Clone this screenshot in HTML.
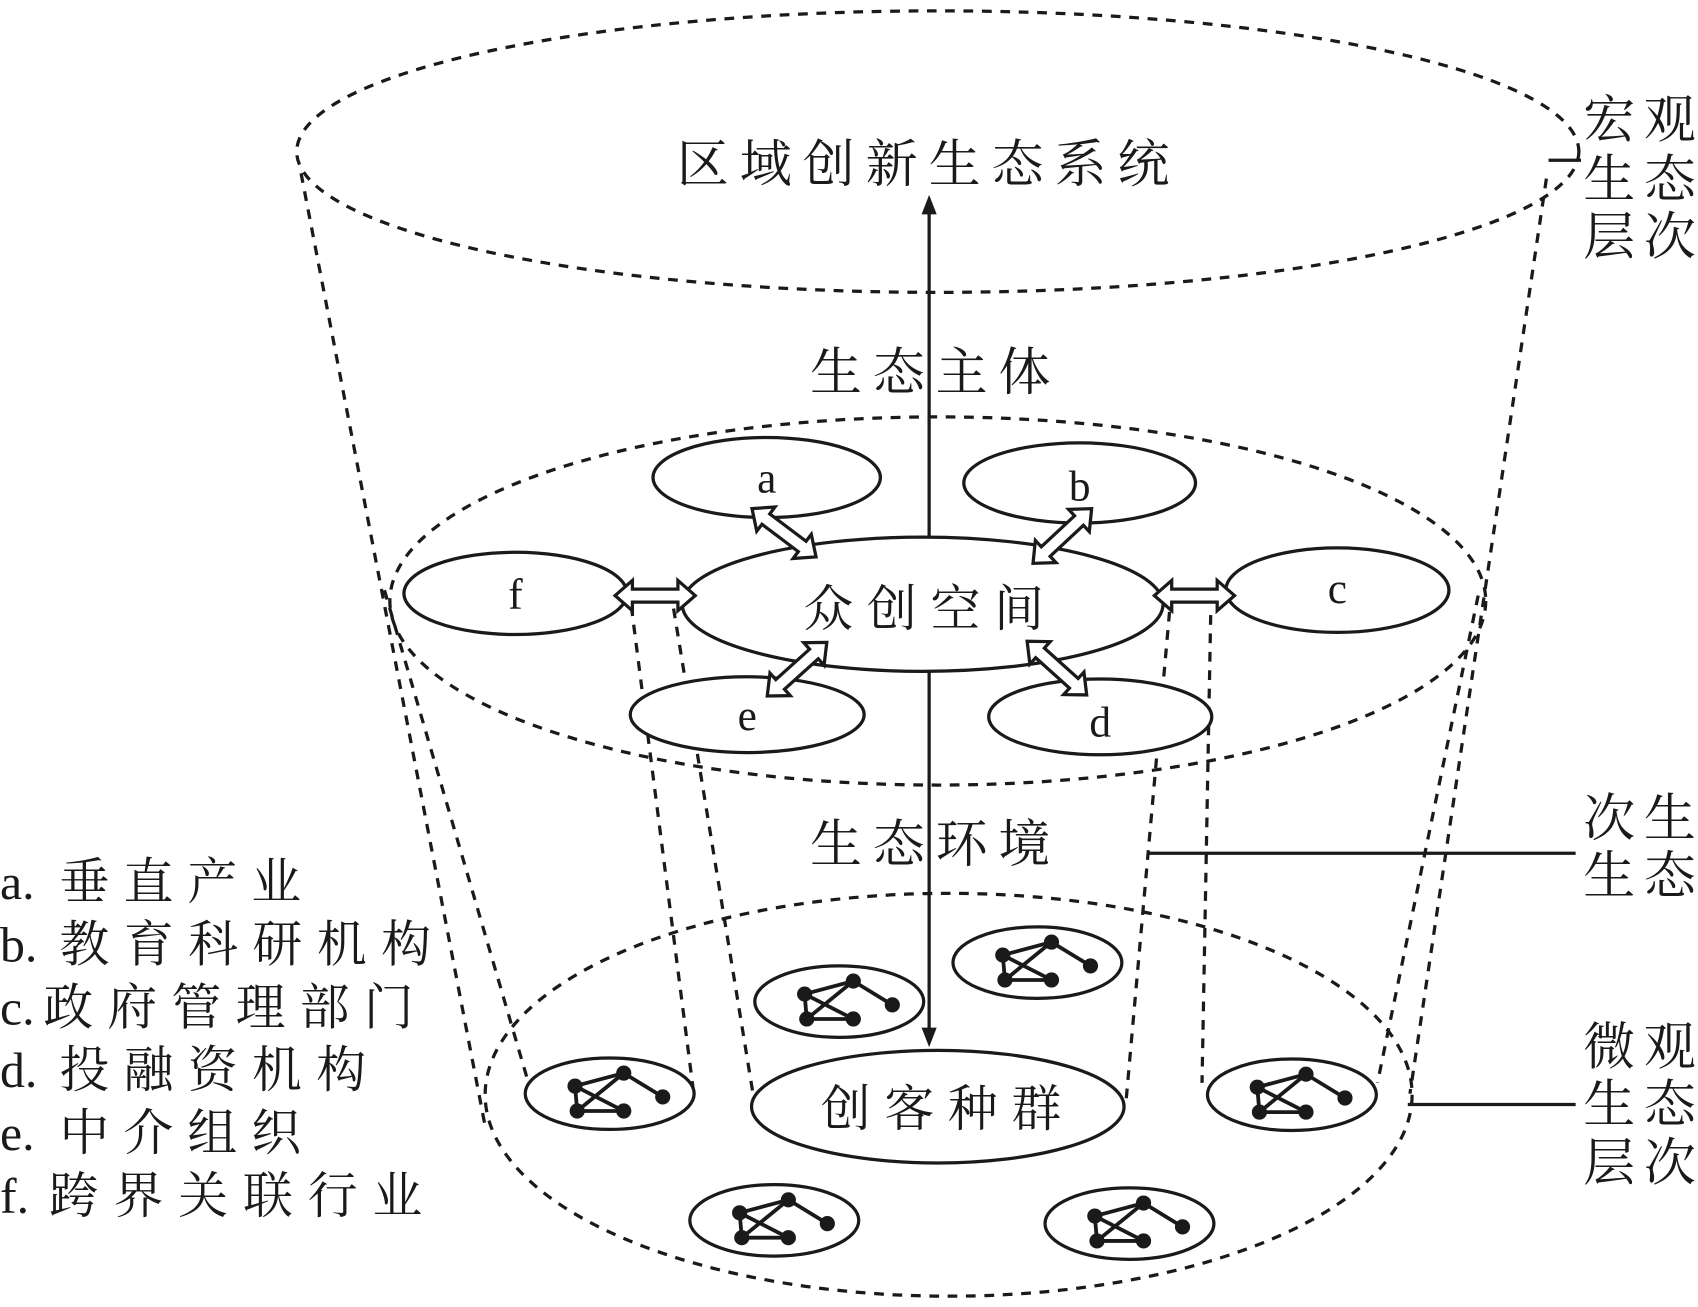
<!DOCTYPE html>
<html><head><meta charset="utf-8"><style>html,body{margin:0;padding:0;background:#fff}svg{display:block}</style></head>
<body>
<svg width="1698" height="1307" viewBox="0 0 1568 1207" preserveAspectRatio="none" xmlns="http://www.w3.org/2000/svg" font-family="'Liberation Serif','Noto Serif CJK SC',serif" fill="#1a1a1a">
<defs>
<g id="net">
<ellipse cx="0" cy="0" rx="78" ry="33" fill="none" stroke="#1a1a1a" stroke-width="3"/>
<g stroke="#1a1a1a" stroke-width="3.5">
<line x1="-32" y1="-7" x2="13" y2="-19"/><line x1="13" y1="-19" x2="49" y2="3"/>
<line x1="-32" y1="-7" x2="-30" y2="16"/><line x1="-30" y1="16" x2="13" y2="16"/>
<line x1="-32" y1="-7" x2="13" y2="16"/><line x1="-30" y1="16" x2="13" y2="-19"/>
</g>
<circle cx="-32" cy="-7" r="7"/><circle cx="13" cy="-19" r="7"/><circle cx="49" cy="3" r="7"/><circle cx="-30" cy="16" r="7"/><circle cx="13" cy="16" r="7"/>
</g>
<polygon id="da" points="-37,0 -21,-14 -21,-6 21,-6 21,-14 37,0 21,14 21,6 -21,6 -21,14" fill="#fff" stroke="#1a1a1a" stroke-width="3"/>
</defs>
<g fill="none" stroke="#1a1a1a" stroke-width="3" stroke-dasharray="9,8">
<ellipse cx="866" cy="140" rx="592" ry="130"/>
<ellipse cx="866" cy="555" rx="506" ry="170"/>
<ellipse cx="876" cy="1011" rx="428" ry="186"/>
<line x1="278" y1="160" x2="448" y2="1040"/>
<line x1="355" y1="545" x2="488" y2="1000"/>
<line x1="1428" y1="165" x2="1302" y2="1010"/>
<line x1="1365" y1="550" x2="1272" y2="1000"/>
<line x1="583" y1="560" x2="640" y2="1005"/>
<line x1="622" y1="562" x2="697" y2="1020"/>
<line x1="1080" y1="565" x2="1040" y2="1015"/>
<line x1="1118" y1="568" x2="1110" y2="1000"/>
</g>
<g fill="#fff" stroke="#1a1a1a" stroke-width="3">
<ellipse cx="708" cy="441" rx="105" ry="37"/>
<ellipse cx="997" cy="446" rx="107" ry="37"/>
<ellipse cx="476" cy="548" rx="103" ry="38"/>
<ellipse cx="1235" cy="545" rx="103" ry="39"/>
<ellipse cx="690" cy="660" rx="108" ry="35"/>
<ellipse cx="1016" cy="662" rx="103" ry="35"/>
<ellipse cx="852" cy="558" rx="222" ry="62"/>
<ellipse cx="866" cy="1022" rx="172" ry="52"/>
</g>
<g stroke="#1a1a1a" stroke-width="3">
<line x1="858" y1="497" x2="858" y2="195"/>
<line x1="858" y1="620" x2="858" y2="950"/>
</g>
<polygon points="858,180 851,198 865,198"/>
<polygon points="858,967 851,949 865,949"/>
<use href="#da" transform="translate(605,550)" />
<use href="#da" transform="translate(1103,550)" />
<use href="#da" transform="translate(724,492) rotate(37)" />
<use href="#da" transform="translate(981,495) rotate(-43)" />
<use href="#da" transform="translate(736,618) rotate(-42)" />
<use href="#da" transform="translate(976,617) rotate(42)" />
<use href="#net" transform="translate(775,925)"/>
<use href="#net" transform="translate(958,889)"/>
<use href="#net" transform="translate(563,1010)"/>
<use href="#net" transform="translate(1193,1011)"/>
<use href="#net" transform="translate(715,1127)"/>
<use href="#net" transform="translate(1043,1130)"/>
<g stroke="#1a1a1a" stroke-width="3">
<line x1="1430" y1="148" x2="1460" y2="148"/>
<line x1="1060" y1="788" x2="1455" y2="788"/>
<line x1="1300" y1="1020" x2="1455" y2="1020"/>
</g>
<g font-size="48">
<text x="625" y="168" textLength="455" lengthAdjust="spacing">区域创新生态系统</text>
<text x="748" y="360" textLength="222" lengthAdjust="spacing">生态主体</text>
<text x="748" y="796" textLength="222" lengthAdjust="spacing">生态环境</text>
<text x="742" y="578" font-size="46" textLength="222" lengthAdjust="spacing">众创空间</text>
<text x="758" y="1040" font-size="46" textLength="222" lengthAdjust="spacing">创客种群</text>
<text x="708" y="455" font-size="40" text-anchor="middle">a</text>
<text x="997" y="462" font-size="40" text-anchor="middle">b</text>
<text x="476" y="562" font-size="40" text-anchor="middle">f</text>
<text x="1235" y="557" font-size="40" text-anchor="middle">c</text>
<text x="690" y="674" font-size="40" text-anchor="middle">e</text>
<text x="1016" y="680" font-size="40" text-anchor="middle">d</text>
<text x="1462" y="127" textLength="104" lengthAdjust="spacing">宏观</text>
<text x="1462" y="182" textLength="104" lengthAdjust="spacing">生态</text>
<text x="1462" y="235" textLength="104" lengthAdjust="spacing">层次</text>
<text x="1462" y="772" textLength="104" lengthAdjust="spacing">次生</text>
<text x="1462" y="825" textLength="104" lengthAdjust="spacing">生态</text>
<text x="1462" y="983" textLength="104" lengthAdjust="spacing">微观</text>
<text x="1462" y="1036" textLength="104" lengthAdjust="spacing">生态</text>
<text x="1462" y="1090" textLength="104" lengthAdjust="spacing">层次</text>
</g>
<g font-size="46">
<text x="0" y="830">a.</text><text x="55" y="830" textLength="223" lengthAdjust="spacing">垂直产业</text>
<text x="0" y="888">b.</text><text x="55" y="888" textLength="343" lengthAdjust="spacing">教育科研机构</text>
<text x="0" y="946">c.</text><text x="40" y="946" textLength="342" lengthAdjust="spacing">政府管理部门</text>
<text x="0" y="1004">d.</text><text x="55" y="1004" textLength="283" lengthAdjust="spacing">投融资机构</text>
<text x="0" y="1062">e.</text><text x="55" y="1062" textLength="223" lengthAdjust="spacing">中介组织</text>
<text x="0" y="1120">f.</text><text x="45" y="1120" textLength="345" lengthAdjust="spacing">跨界关联行业</text>
</g>
</svg>
</body></html>
